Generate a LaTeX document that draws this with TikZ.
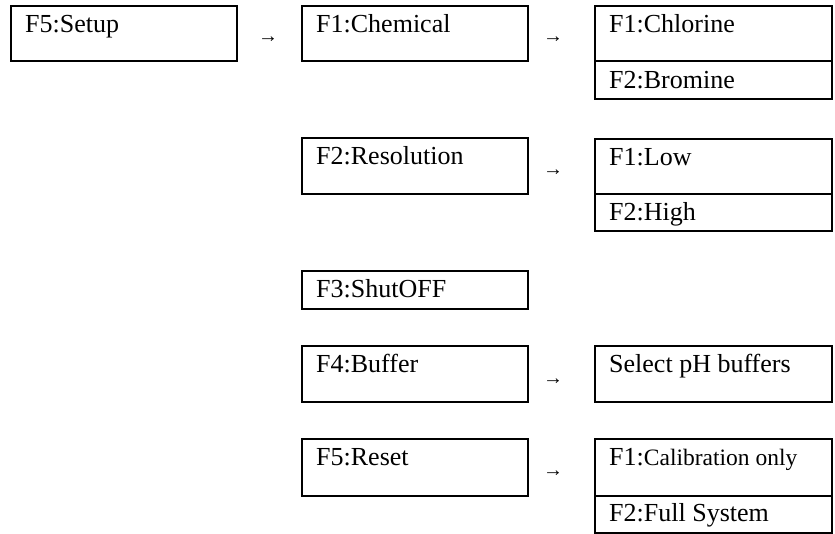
\documentclass[tikz,border=0pt]{standalone}
\usepackage{fontspec}
\setmainfont{Liberation Serif}
\begin{document}
\begin{tikzpicture}[x=1pt,y=-1pt,
  menubox/.style={draw,line width=2pt,anchor=north west,inner sep=0pt,minimum width=226pt},
  subbox/.style={draw,line width=2pt,anchor=north west,inner sep=0pt,minimum width=237pt},
  lbl/.style={anchor=base west,inner sep=0pt,font=\fontsize{26}{30}\selectfont},
  arr/.style={inner sep=0pt,font=\fontsize{20}{24}\selectfont}]
\useasboundingbox (0,0) rectangle (835,533);
% left column
\node[menubox,minimum height=55pt] (setup) at (10,5) {};
\node[lbl] (setupt) at ([shift={(15pt,-27pt)}]setup.north west) {F5:Setup};
% middle column
\node[menubox,minimum height=55pt] (chem) at (301,5) {};
\node[lbl] (chemt) at ([shift={(15pt,-27pt)}]chem.north west) {F1:Chemical};
\node[menubox,minimum height=56pt] (res) at (301,137) {};
\node[lbl] (rest) at ([shift={(15pt,-27pt)}]res.north west) {F2:Resolution};
\node[menubox,minimum height=38pt] (shut) at (301,270) {};
\node[lbl] (shutt) at ([shift={(15pt,-27pt)}]shut.north west) {F3:ShutOFF};
\node[menubox,minimum height=56pt] (buf) at (301,345) {};
\node[lbl] (buft) at ([shift={(15pt,-27pt)}]buf.north west) {F4:Buffer};
\node[menubox,minimum height=57pt] (reset) at (301,438) {};
\node[lbl] (resett) at ([shift={(15pt,-27pt)}]reset.north west) {F5:Reset};
% right column
\node[subbox,minimum height=55pt] (chl) at (594,5) {};
\node[lbl] (chlt) at ([shift={(15pt,-27pt)}]chl.north west) {F1:Chlorine};
\node[subbox,minimum height=38pt] (brom) at (594,60) {};
\node[lbl] (bromt) at ([shift={(15pt,-28pt)}]brom.north west) {F2:Bromine};
\node[subbox,minimum height=55pt] (low) at (594,138) {};
\node[lbl] (lowt) at ([shift={(15pt,-27pt)}]low.north west) {F1:Low};
\node[subbox,minimum height=37pt] (high) at (594,193) {};
\node[lbl] (hight) at ([shift={(15pt,-27pt)}]high.north west) {F2:High};
\node[subbox,minimum height=56pt] (sel) at (594,345) {};
\node[lbl] (selt) at ([shift={(15pt,-27pt)}]sel.north west) {Select pH buffers};
\node[subbox,minimum height=57pt] (cal) at (594,438) {};
\node[lbl] (calt) at ([shift={(15pt,-27pt)}]cal.north west) {F1:{\fontsize{23.5}{28}\selectfont Calibration only}};
\node[subbox,minimum height=37pt] (full) at (594,495) {};
\node[lbl] (fullt) at ([shift={(15pt,-26pt)}]full.north west) {F2:Full System};
% arrows (text glyphs)
\node[arr] (a1) at (268,40) {→};
\node[arr] (a2) at (553,40) {→};
\node[arr] (a3) at (553,173) {→};
\node[arr] (a4) at (553,382) {→};
\node[arr] (a5) at (553,474) {→};
\end{tikzpicture}
\end{document}
